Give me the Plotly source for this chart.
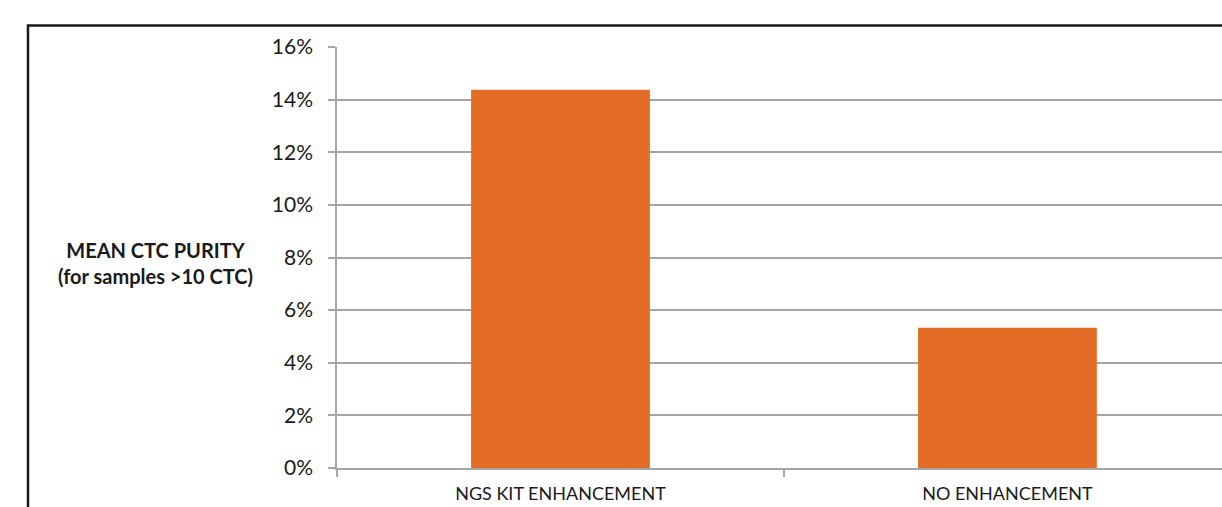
import plotly.graph_objects as go

categories = ["NGS KIT ENHANCEMENT", "NO ENHANCEMENT"]
purity = [0.1438, 0.0533]
y_ticks = [0, 0.02, 0.04, 0.06, 0.08, 0.10, 0.12, 0.14, 0.16]
axis_title = "MEAN CTC PURITY<br>(for samples &gt;10 CTC)"

FONT = "Lato"
GRID = "#A5A5A5"
BAR = "#E36C26"

fig = go.Figure(
    go.Bar(x=categories, y=purity, marker=dict(color=BAR, line=dict(width=0)), width=0.4)
)

fig.update_layout(
    width=1222,
    height=507,
    margin=dict(l=337, r=0, t=47, b=39, pad=0, autoexpand=False),
    paper_bgcolor="white",
    plot_bgcolor="white",
    showlegend=False,
    font=dict(family=FONT, color="#1a1a1a"),
    xaxis=dict(
        type="category",
        range=[-0.5, 1.48],
        tickson="boundaries",
        ticks="outside",
        ticklen=7,
        tickwidth=1.5,
        tickcolor=GRID,
        showline=True,
        linecolor=GRID,
        linewidth=1.5,
        showgrid=False,
        automargin=False,
        tickfont=dict(size=18, family=FONT, color="#1a1a1a"),
        ticklabelstandoff=9,
    ),
    yaxis=dict(
        range=[0, 0.16],
        tickvals=y_ticks,
        tickformat=".0%",
        ticks="outside",
        ticklen=7,
        tickwidth=1.5,
        tickcolor=GRID,
        showline=True,
        linecolor=GRID,
        linewidth=1.5,
        showgrid=True,
        gridcolor=GRID,
        gridwidth=1.5,
        zeroline=False,
        automargin=False,
        tickfont=dict(size=21, family=FONT, color="#1a1a1a"),
        ticklabelstandoff=11,
    ),
)

fig.add_annotation(
    text=axis_title,
    xref="paper", yref="paper",
    x=(155 - 337) / 885, y=(468 - 263) / 421,
    xanchor="center", yanchor="middle",
    showarrow=False,
    font=dict(size=20, family=FONT, color="#1a1a1a", weight="bold"),
    align="center",
)

fig.add_shape(
    type="rect",
    xref="paper", yref="paper",
    x0=(28 - 337) / 885, x1=1.1,
    y0=-0.3, y1=(468 - 25.5) / 421,
    line=dict(color="#1a1a1a", width=2.5),
    fillcolor="rgba(0,0,0,0)",
    layer="above",
)

fig.write_html("out.html")
